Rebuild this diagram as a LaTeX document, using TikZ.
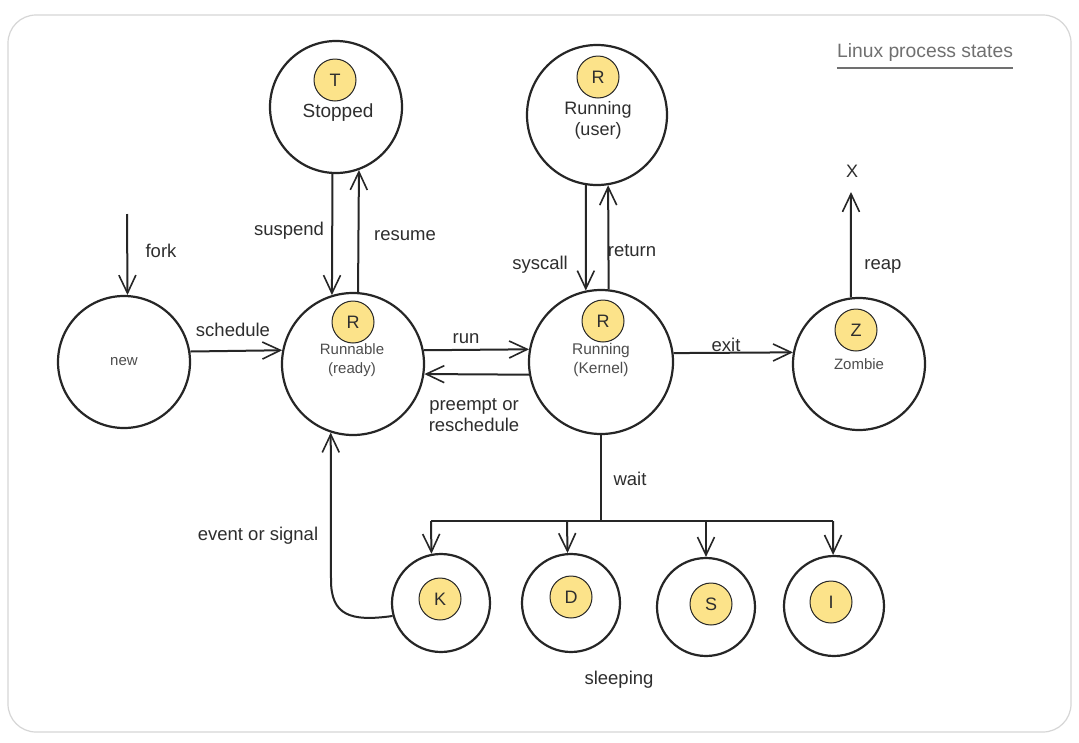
\documentclass[tikz,border=0pt]{standalone}
\usepackage{fontspec}
\setmainfont{Liberation Sans}
\usetikzlibrary{arrows.meta}
\definecolor{ink}{HTML}{262626}
\definecolor{txt}{HTML}{2E2E2E}
\definecolor{yel}{HTML}{FCE38A}
\definecolor{framec}{HTML}{D6D6D6}
\definecolor{titlegrey}{HTML}{707070}
\begin{document}
\begin{tikzpicture}[x=1pt,y=-1pt,
  state/.style={circle,draw=ink,line width=2.2pt,inner sep=0pt,fill=white},
  badge/.style={circle,draw=ink,line width=1pt,fill=yel,minimum size=42pt,inner sep=0pt,font=\fontsize{18}{20}\selectfont,text=txt},
  lbl/.style={font=\fontsize{18.5}{21}\selectfont,text=txt,inner sep=0pt,align=center},
  intext/.style={font=\fontsize{15}{19}\selectfont,text=txt!85,inner sep=0pt,align=center},
  conn/.style={draw=ink,line width=2pt},
  arr/.style={conn,-{Straight Barb[length=18pt,width=17pt,line width=1.6pt]}}]
\useasboundingbox (0,0) rectangle (1079,742);
\fill[white] (0,0) rectangle (1079,742);
\draw[framec,line width=1.2pt,rounded corners=28pt] (8,15) rectangle (1071,732);

% states
\node[state,minimum size=132pt] (new) at (124,362) {};
\node[state,minimum size=142pt] (rn) at (353,364) {};
\node[state,minimum size=132pt] (stop) at (336,107) {};
\node[state,minimum size=140pt] (user) at (597,115) {};
\node[state,minimum size=144pt] (kern) at (601,362) {};
\node[state,minimum size=132pt] (zomb) at (859,364) {};
\node[state,minimum size=98pt] (sk) at (441,603) {};
\node[state,minimum size=98pt] (sd) at (571,603) {};
\node[state,minimum size=98pt] (ss) at (706,607) {};
\node[state,minimum size=100pt] (si) at (834,606) {};

% badges
\node[badge] (bT) at (335,80) {T};
\node[badge] (bU) at (598,77) {R};
\node[badge] (bR) at (353,322) {R};
\node[badge] (bK) at (603,321) {R};
\node[badge] (bZ) at (856,330) {Z};
\node[badge] (bk) at (440,599) {K};
\node[badge] (bd) at (571,597) {D};
\node[badge] (bs) at (711,604) {S};
\node[badge] (bi) at (831,602) {I};

% inner texts
\node[lbl,font=\fontsize{19}{21}\selectfont] (tstop) at (338,113) {Stopped};
\node[lbl,font=\fontsize{18}{21}\selectfont] (tuser) at (598,120.5) {Running\\(user)};
\node[intext] (trn) at (352,360.5) {Runnable\\(ready)};
\node[intext,font=\fontsize{15.5}{18.5}\selectfont] (tkern) at (601,360) {Running\\(Kernel)};
\node[intext] (tzomb) at (859,364) {Zombie};
\node[intext] (tnew) at (124,362) {new};

% edge labels
\node[lbl] (lfork) at (161,251) {fork};
\node[lbl] (lsched) at (233,330) {schedule};
\node[lbl] (lsusp) at (289,231) {suspend};
\node[lbl] (lres) at (405,236) {resume};
\node[lbl] (lrun) at (466,339) {run};
\node[lbl] (lpre) at (474,415.5) {preempt or\\reschedule};
\node[lbl] (lsys) at (540,265) {syscall};
\node[lbl] (lret) at (632,251) {return};
\node[lbl] (lexit) at (726,345) {exit};
\node[lbl] (lreap) at (883,266) {reap};
\node[lbl,font=\fontsize{18}{20}\selectfont] (lx) at (852,171) {X};
\node[lbl] (lwait) at (630,479) {wait};
\node[lbl] (lev) at (258,536) {event or signal};
\node[lbl] (lsleep) at (619,680) {sleeping};
\node[lbl,text=titlegrey,font=\fontsize{19.3}{22}\selectfont] (title) at (925,53) {Linux process states};
\draw[titlegrey,line width=1.6pt] ([yshift=-6pt]title.south west) -- ([yshift=-6pt]title.south east);

% coordinates
\coordinate (forkstart) at (127,214);
\coordinate (xend) at (851,192);
\coordinate (wb) at (601,521);
\coordinate (b1) at (431,521);
\coordinate (b2) at (567,521);
\coordinate (b3) at (706,521);
\coordinate (b4) at (833,521);

% connectors
\draw[arr] (forkstart) -- (new.87);
\draw[arr] (new.9.6) -- (rn.169.5);
\draw[arr] (stop.-93.5) -- (rn.107);
\draw[arr] (rn.86) -- (stop.-70.5);
\draw[arr] (user.-99) -- (kern.102);
\draw[arr] (kern.84.4) -- (user.-81);
\draw[arr] (rn.11.4) -- (kern.170.4);
\draw[arr] (kern.190.4) -- (rn.-8.9);
\draw[arr] (kern.7.2) -- (zomb.170.4);
\draw[arr] (zomb.97) -- (xend);
\draw[conn] (kern.south) -- (wb);
\draw[conn] (b1) -- (b4);
\draw[arr] (b1) -- (sk.101.8);
\draw[arr] (b2) -- (sd.94.7);
\draw[arr] (b3) -- (ss.north);
\draw[arr] (b4) -- (si.91);
\draw[arr] (sk.195) .. controls (350,622) and (331,615) .. (331,580) -- (rn.-108);
\end{tikzpicture}
\end{document}
